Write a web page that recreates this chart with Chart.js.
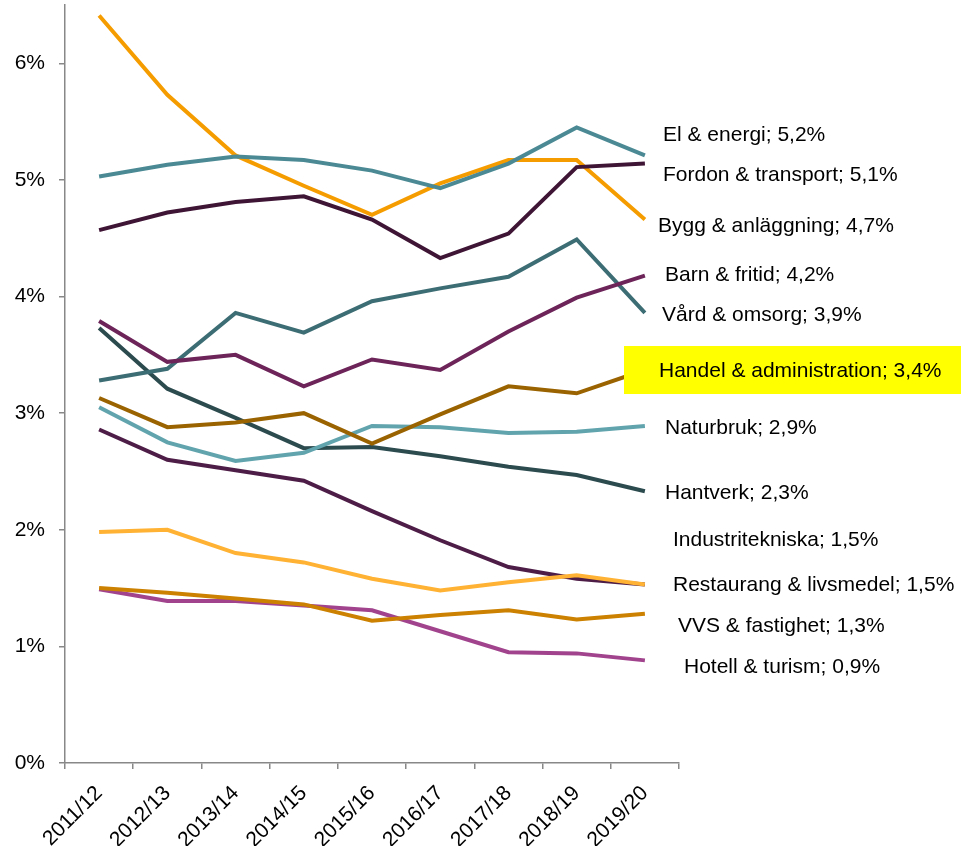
<!DOCTYPE html>
<html>
<head>
<meta charset="utf-8">
<script src="https://cdn.jsdelivr.net/npm/chart.js@4.4.1/dist/chart.umd.min.js"></script>
<style>
  html, body { margin: 0; padding: 0; background: #fff; }
</style>
</head>
<body>
<canvas id="chart" width="961" height="846"></canvas>
<script>
// Categories (school years)
const years = ['2011/12', '2012/13', '2013/14', '2014/15', '2015/16', '2016/17', '2017/18', '2018/19', '2019/20'];

// Share per programme, in percent
const elEnergi = [5.03, 5.13, 5.20, 5.17, 5.08, 4.93, 5.14, 5.45, 5.21];
const fordonTransport = [4.57, 4.72, 4.81, 4.86, 4.66, 4.33, 4.54, 5.11, 5.14];
const byggAnlaggning = [6.41, 5.73, 5.21, 4.95, 4.70, 4.97, 5.17, 5.17, 4.66];
const barnFritid = [3.79, 3.44, 3.50, 3.23, 3.46, 3.37, 3.70, 3.99, 4.18];
const vardOmsorg = [3.28, 3.38, 3.86, 3.69, 3.96, 4.07, 4.17, 4.49, 3.86];
const handelAdmin = [3.13, 2.88, 2.92, 3.00, 2.74, 2.99, 3.23, 3.17, 3.37];
const naturbruk = [3.05, 2.75, 2.59, 2.66, 2.89, 2.88, 2.83, 2.84, 2.89];
const hantverk = [3.73, 3.21, 2.96, 2.70, 2.71, 2.63, 2.54, 2.47, 2.33];
const industritekniska = [1.98, 2.00, 1.80, 1.72, 1.58, 1.48, 1.55, 1.61, 1.53];
const restaurangLivsmedel = [2.86, 2.60, 2.51, 2.42, 2.16, 1.91, 1.68, 1.58, 1.53];
const vvsFastighet = [1.50, 1.46, 1.41, 1.36, 1.22, 1.27, 1.31, 1.23, 1.28];
const hotellTurism = [1.49, 1.39, 1.39, 1.35, 1.31, 1.13, 0.95, 0.94, 0.88];

// Y axis ticks
const yTicks = [0, 1, 2, 3, 4, 5, 6];

const series = [
  { name: 'El & energi; 5,2%', data: elEnergi, color: '#4b8a94' },
  { name: 'Fordon & transport; 5,1%', data: fordonTransport, color: '#3f1535' },
  { name: 'Bygg & anläggning; 4,7%', data: byggAnlaggning, color: '#f59d00' },
  { name: 'Barn & fritid; 4,2%', data: barnFritid, color: '#6c2459' },
  { name: 'Vård & omsorg; 3,9%', data: vardOmsorg, color: '#3d6d74' },
  { name: 'Handel & administration; 3,4%', data: handelAdmin, color: '#9a6300' },
  { name: 'Naturbruk; 2,9%', data: naturbruk, color: '#62a4ae' },
  { name: 'Hantverk; 2,3%', data: hantverk, color: '#2c4b4f' },
  { name: 'Industritekniska; 1,5%', data: industritekniska, color: '#ffb233' },
  { name: 'Restaurang & livsmedel; 1,5%', data: restaurangLivsmedel, color: '#4e1d47' },
  { name: 'VVS & fastighet; 1,3%', data: vvsFastighet, color: '#cc8100' },
  { name: 'Hotell & turism; 0,9%', data: hotellTurism, color: '#a1448d' }
];

// where each end label sits: dx from the right edge of the plot, y in axis units
const labelSpots = [
  { dx: -16, y: 5.39 }, { dx: -16, y: 5.05 }, { dx: -21, y: 4.61 },
  { dx: -14, y: 4.19 }, { dx: -17, y: 3.85 }, { dx: -20, y: 3.37, box: true },
  { dx: -14, y: 2.88 }, { dx: -14, y: 2.32 }, { dx: -6, y: 1.92 },
  { dx: -6, y: 1.53 }, { dx: -1, y: 1.18 }, { dx: 5, y: 0.83 }
];

const FONT = "'Liberation Sans', Arial, sans-serif";

const endLabels = {
  id: 'endLabels',
  afterDatasetsDraw(chart) {
    const ctx = chart.ctx;
    const yScale = chart.scales.y;
    const right = chart.chartArea.right;
    ctx.save();
    ctx.font = '21px ' + FONT;
    ctx.textBaseline = 'middle';
    ctx.textAlign = 'left';
    series.forEach((s, i) => {
      const spot = labelSpots[i];
      const y = yScale.getPixelForValue(spot.y);
      if (spot.box) {
        ctx.fillStyle = '#ffff00';
        ctx.fillRect(right - 55, y - 24, chart.width - (right - 55), 48);
      }
      ctx.fillStyle = '#000';
      ctx.fillText(s.name, right + spot.dx, y + 1);
    });
    ctx.restore();
  }
};

const ctx = document.getElementById('chart').getContext('2d');
new Chart(ctx, {
  type: 'line',
  data: {
    labels: years,
    datasets: series.map(s => ({
      label: s.name,
      data: s.data,
      borderColor: s.color,
      backgroundColor: s.color,
      borderWidth: 4,
      pointRadius: 0,
      fill: false,
      tension: 0
    }))
  },
  options: {
    responsive: false,
    animation: false,
    layout: { padding: { top: 5, right: 282, left: 0, bottom: 0 } },
    plugins: {
      legend: { display: false },
      tooltip: { enabled: false }
    },
    scales: {
      x: {
        offset: true,
        grid: { offset: true, drawOnChartArea: false, tickLength: 6, color: '#888', lineWidth: 1.5 },
        border: { color: '#888', width: 1.5 },
        ticks: {
          maxRotation: 45, minRotation: 45, padding: 12,
          color: '#000', font: { family: FONT, size: 21 }
        },
        afterFit(scale) {
          scale.height = 83;
          scale.paddingTop = 0; scale.paddingBottom = 0;
          scale.paddingLeft = 0; scale.paddingRight = 0;
        }
      },
      y: {
        min: 0,
        max: 6.5,
        grid: { drawOnChartArea: false, tickLength: 6, color: '#888', lineWidth: 1.5 },
        border: { color: '#888', width: 1.5 },
        ticks: {
          stepSize: 1, padding: 14,
          color: '#000', font: { family: FONT, size: 21 },
          callback: v => v + '%'
        },
        afterBuildTicks(scale) {
          scale.ticks = yTicks.map(v => ({ value: v }));
        },
        afterFit(scale) {
          scale.width = 65;
          scale.paddingTop = 0; scale.paddingBottom = 0;
        }
      }
    }
  },
  plugins: [endLabels]
});
</script>
</body>
</html>
